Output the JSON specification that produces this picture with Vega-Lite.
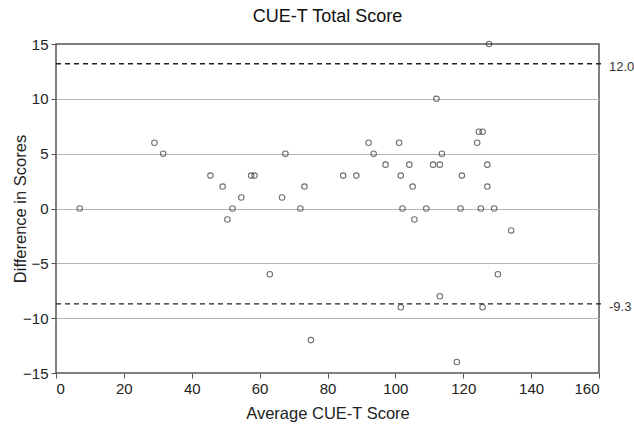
{
  "$schema": "https://vega.github.io/schema/vega-lite/v6.json",
  "autosize": "none",
  "width": 543,
  "height": 329,
  "padding": {"left": 56, "top": 44, "right": 35, "bottom": 55},
  "background": "#ffffff",
  "title": {
    "text": "CUE-T Total Score",
    "font": "Liberation Sans",
    "fontSize": 18,
    "fontWeight": "normal",
    "color": "#111111",
    "anchor": "middle",
    "offset": 11
  },
  "config": {
    "view": {"stroke": "#555555", "strokeWidth": 1.5},
    "axis": {
      "labelFont": "Liberation Sans",
      "labelFontSize": 15,
      "labelColor": "#222222",
      "titleFont": "Liberation Sans",
      "titleFontSize": 16.5,
      "titleFontWeight": "normal",
      "titleColor": "#222222",
      "domain": false,
      "tickColor": "#555555",
      "tickSize": 5,
      "labelPadding": 3
    }
  },
  "datasets": {
    "points": [
      {"avg": 7, "diff": 0}, {"avg": 29, "diff": 6}, {"avg": 31.6, "diff": 5},
      {"avg": 45.5, "diff": 3}, {"avg": 49.1, "diff": 2}, {"avg": 50.5, "diff": -1},
      {"avg": 52, "diff": 0}, {"avg": 54.6, "diff": 1}, {"avg": 57.5, "diff": 3},
      {"avg": 58.5, "diff": 3}, {"avg": 63, "diff": -6}, {"avg": 66.6, "diff": 1},
      {"avg": 67.6, "diff": 5}, {"avg": 72, "diff": 0}, {"avg": 73.2, "diff": 2},
      {"avg": 75.1, "diff": -12}, {"avg": 84.6, "diff": 3}, {"avg": 88.5, "diff": 3},
      {"avg": 92.1, "diff": 6}, {"avg": 93.6, "diff": 5}, {"avg": 97.1, "diff": 4},
      {"avg": 101.1, "diff": 6}, {"avg": 101.6, "diff": 3}, {"avg": 101.6, "diff": -9},
      {"avg": 102.1, "diff": 0}, {"avg": 104.1, "diff": 4}, {"avg": 105.1, "diff": 2},
      {"avg": 105.6, "diff": -1}, {"avg": 109.1, "diff": 0}, {"avg": 111.1, "diff": 4},
      {"avg": 112.1, "diff": 10}, {"avg": 113.1, "diff": 4}, {"avg": 113.1, "diff": -8},
      {"avg": 113.7, "diff": 5}, {"avg": 118.1, "diff": -14}, {"avg": 119.2, "diff": 0},
      {"avg": 119.6, "diff": 3}, {"avg": 124.1, "diff": 6}, {"avg": 124.6, "diff": 7},
      {"avg": 125.2, "diff": 0}, {"avg": 125.7, "diff": 7}, {"avg": 125.7, "diff": -9},
      {"avg": 127.1, "diff": 4}, {"avg": 127.1, "diff": 2}, {"avg": 127.6, "diff": 15},
      {"avg": 129.1, "diff": 0}, {"avg": 130.2, "diff": -6}, {"avg": 134.1, "diff": -2}
    ],
    "limits": [
      {"limit": 13.2, "label": "12.0"},
      {"limit": -8.7, "label": "-9.3"}
    ]
  },
  "layer": [
    {
      "data": {"name": "limits"},
      "mark": {"type": "rule", "strokeDash": [5, 4], "color": "#222222", "strokeWidth": 1.3},
      "encoding": {
        "x": {"datum": 0, "type": "quantitative", "scale": {"domain": [0, 160]}},
        "x2": {"datum": 161},
        "y": {"field": "limit", "type": "quantitative", "scale": {"domain": [-15, 15]}}
      }
    },
    {
      "data": {"name": "limits"},
      "mark": {"type": "text", "align": "left", "baseline": "middle", "dx": 10, "dy": 3, "font": "Liberation Sans", "fontSize": 13, "color": "#333333"},
      "encoding": {
        "x": {"datum": 160, "type": "quantitative"},
        "y": {"field": "limit", "type": "quantitative"},
        "text": {"field": "label"}
      }
    },
    {
      "data": {"name": "points"},
      "mark": {"type": "point", "shape": "circle", "filled": false, "stroke": "#333333", "strokeWidth": 1.1, "size": 30},
      "encoding": {
        "x": {
          "field": "avg", "type": "quantitative",
          "scale": {"domain": [0, 160], "nice": false, "zero": false},
          "axis": {
            "title": "Average CUE-T Score",
            "values": [0, 20, 40, 60, 80, 100, 120, 140, 160],
            "grid": false,
            "titleY": 40,
            "titleBaseline": "middle"
          }
        },
        "y": {
          "field": "diff", "type": "quantitative",
          "scale": {"domain": [-15, 15], "nice": false, "zero": false},
          "axis": {
            "title": "Difference in Scores",
            "values": [-15, -10, -5, 0, 5, 10, 15],
            "grid": true,
            "gridColor": {"condition": {"test": "abs(datum.value) == 15", "value": "transparent"}, "value": "#b5b5b5"},
            "gridWidth": 1.2,
            "titleX": -36,
            "titleBaseline": "middle",
            "titleAlign": "center"
          }
        }
      }
    }
  ]
}
